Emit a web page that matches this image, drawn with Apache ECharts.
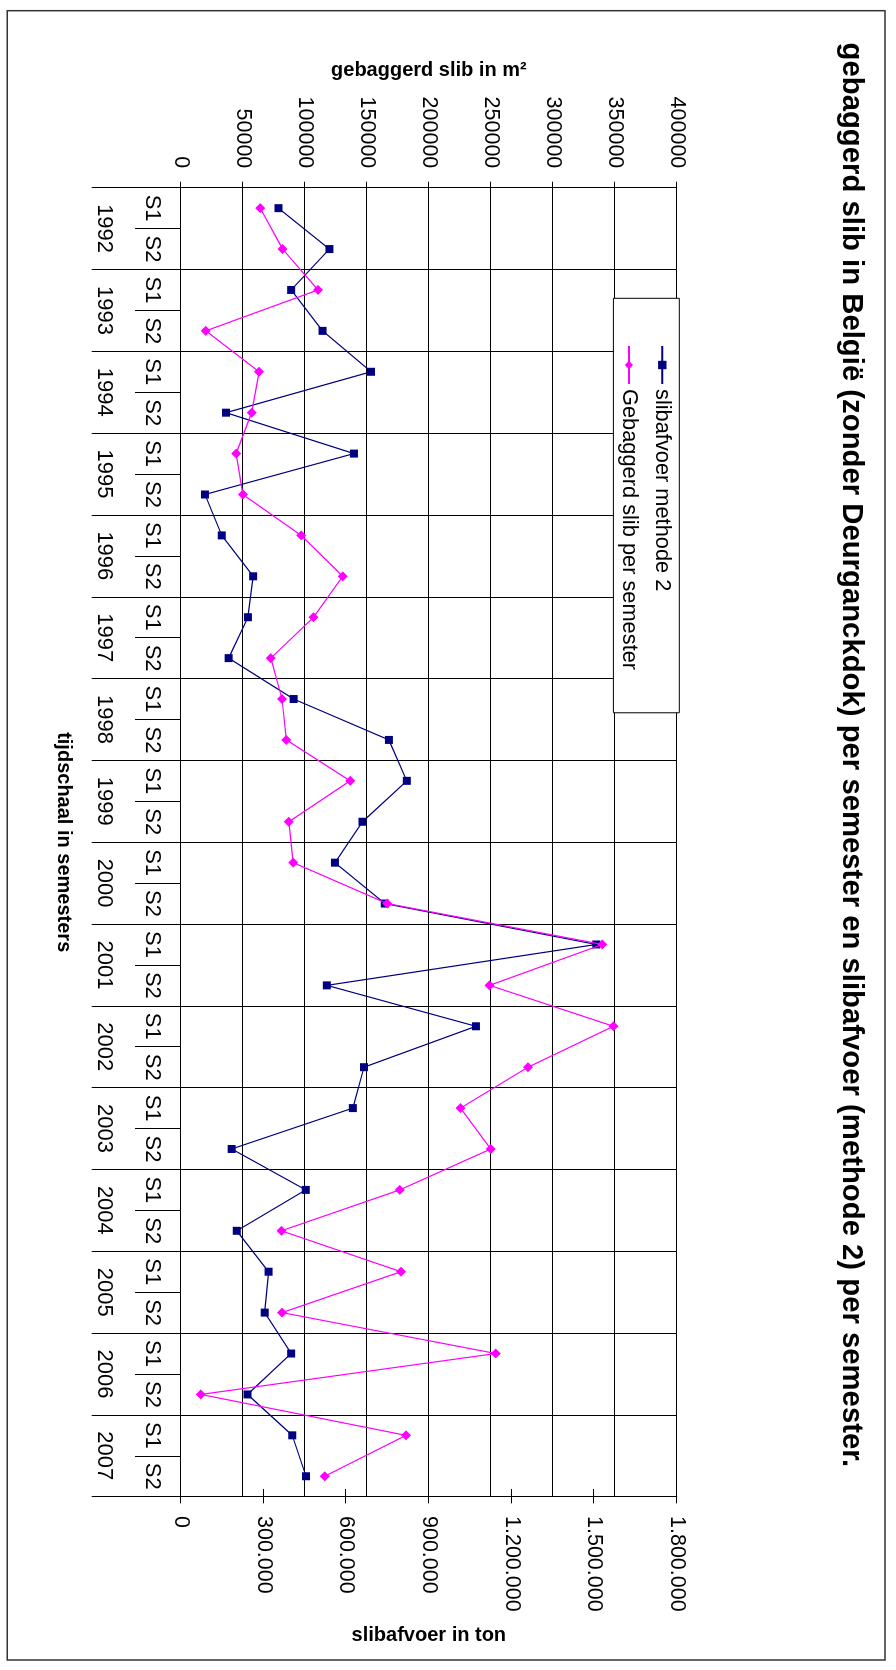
<!DOCTYPE html>
<html>
<head>
<meta charset="utf-8">
<script src="https://cdn.jsdelivr.net/npm/echarts@6/dist/echarts.min.js"></script>
<style>
  html, body { margin: 0; padding: 0; width: 896px; height: 1670px; overflow: hidden; background: #fff; }
  /* The chart is laid out in landscape and turned a quarter turn clockwise onto the portrait page. */
  #chart {
    position: absolute; left: 0; top: 0;
    width: 1670px; height: 896px;
    transform-origin: 0 0;
    transform: translate(896px, 0) rotate(90deg);
  }
</style>
</head>
<body>
<div id="chart"></div>
<script>
const years = ['1992','1993','1994','1995','1996','1997','1998','1999',
               '2000','2001','2002','2003','2004','2005','2006','2007'];
const semesters = ['S1','S2','S1','S2','S1','S2','S1','S2','S1','S2','S1','S2','S1','S2','S1','S2',
                   'S1','S2','S1','S2','S1','S2','S1','S2','S1','S2','S1','S2','S1','S2','S1','S2'];

// slibafvoer (methode 2), ton per semester
const slibafvoerTon = [354000, 539000, 400000, 514000, 690000, 163500, 628000, 87000,
                       148000, 262000, 243000, 173000, 409000, 755000, 820000, 659000,
                       559000, 740000, 1508000, 529500, 1071000, 664500, 624000, 184000,
                       453000, 202500, 318000, 304000, 400000, 241500, 404000, 454000];

// gebaggerd slib, m² per semester
const gebaggerdM2 = [64000, 82000, 110500, 20000, 63000, 57000, 44500, 50000,
                     97000, 130500, 107000, 72500, 81500, 85000, 136500, 87000,
                     90500, 166500, 340000, 249000, 349000, 280000, 225500, 250000,
                     176500, 81000, 177500, 81500, 254000, 16000, 181500, 116000];

const m2Ticks = { min: 0, max: 400000, interval: 50000 };
const tonTicks = { min: 0, max: 1800000, interval: 300000 };

const FONT = "'Liberation Sans', Arial, sans-serif";
const BLACK = '#000';

function withDots(v) {
  return String(v).replace(/\B(?=(\d{3})+(?!\d))/g, '.');
}

const chart = echarts.init(document.getElementById('chart'), null, { renderer: 'canvas' });

chart.setOption({
  animation: false,
  backgroundColor: '#fff',
  textStyle: { fontFamily: FONT },
  title: {
    text: 'gebaggerd slib in België (zonder Deurganckdok) per semester en slibafvoer (methode 2) per semester.',
    left: 42.6,
    top: 30,
    padding: 0,
    textStyle: { fontFamily: FONT, fontSize: 29.3, fontWeight: 'bold', color: BLACK }
  },
  legend: {
    orient: 'vertical',
    left: 298.3,
    top: 216.7,
    padding: [6, 42.7, 4.5, 46.7],
    itemWidth: 38,
    itemHeight: 10.5,
    itemGap: 11.4,
    backgroundColor: '#fff',
    borderColor: BLACK,
    borderWidth: 1,
    borderRadius: 0,
    textStyle: { fontFamily: FONT, fontSize: 21.8, color: BLACK },
    data: ['slibafvoer methode 2', 'Gebaggerd slib per semester']
  },
  grid: { left: 187.7, right: 173.3, top: 219.3, bottom: 181, containLabel: false },
  xAxis: [
    {
      type: 'category',
      data: semesters,
      position: 'bottom',
      boundaryGap: true,
      axisLine: { show: true, lineStyle: { color: BLACK, width: 1 } },
      axisTick: { show: true, interval: 0, length: 46, alignWithLabel: false, lineStyle: { color: BLACK, width: 1 } },
      axisLabel: { interval: 0, margin: 18, fontFamily: FONT, fontSize: 22, color: BLACK },
      splitLine: { show: false }
    },
    {
      type: 'category',
      data: years,
      position: 'bottom',
      boundaryGap: true,
      axisLine: { show: false },
      axisTick: { show: true, interval: 0, length: 89.3, lineStyle: { color: BLACK, width: 1 } },
      axisLabel: { interval: 0, margin: 66, fontFamily: FONT, fontSize: 22, color: BLACK },
      splitLine: { show: true, interval: 0, lineStyle: { color: BLACK, width: 1 } },
      name: 'tijdschaal in semesters',
      nameLocation: 'middle',
      nameGap: 107.7,
      nameTextStyle: { fontFamily: FONT, fontSize: 20, fontWeight: 'bold', color: BLACK }
    }
  ],
  yAxis: [
    {
      type: 'value',
      position: 'left',
      min: m2Ticks.min, max: m2Ticks.max, interval: m2Ticks.interval,
      axisLine: { show: true, lineStyle: { color: BLACK, width: 1 } },
      axisTick: { show: true, length: 6, lineStyle: { color: BLACK, width: 1 } },
      axisLabel: { margin: 19.4, fontFamily: FONT, fontSize: 21.5, color: BLACK, formatter: v => String(v) },
      splitLine: { show: true, lineStyle: { color: BLACK, width: 1 } },
      name: 'gebaggerd slib in m²',
      nameLocation: 'middle',
      nameRotate: 90,
      nameGap: 106.9,
      nameTextStyle: { fontFamily: FONT, fontSize: 20, fontWeight: 'bold', color: BLACK }
    },
    {
      type: 'value',
      position: 'right',
      min: tonTicks.min, max: tonTicks.max, interval: tonTicks.interval,
      axisLine: { show: true, lineStyle: { color: BLACK, width: 1 } },
      axisTick: { show: true, length: 6.7, lineStyle: { color: BLACK, width: 1 } },
      axisLabel: { margin: 19.3, fontFamily: FONT, fontSize: 21.5, color: BLACK, formatter: v => withDots(v) },
      splitLine: { show: false },
      name: 'slibafvoer in ton',
      nameLocation: 'middle',
      nameRotate: 90,
      nameGap: 128.3,
      nameTextStyle: { fontFamily: FONT, fontSize: 20, fontWeight: 'bold', color: BLACK }
    },
    {
      // inner half of the crossing ticks on the ton axis
      type: 'value',
      position: 'right',
      min: tonTicks.min, max: tonTicks.max, interval: tonTicks.interval,
      axisLine: { show: false },
      axisTick: { show: true, inside: true, length: 7.7, lineStyle: { color: BLACK, width: 1 } },
      axisLabel: { show: false },
      splitLine: { show: false }
    }
  ],
  series: [
    {
      name: 'slibafvoer methode 2',
      type: 'line',
      xAxisIndex: 0,
      yAxisIndex: 1,
      data: slibafvoerTon,
      symbol: 'rect',
      symbolSize: 8,
      lineStyle: { color: '#000080', width: 1.2 },
      itemStyle: { color: '#000080' },
      z: 3
    },
    {
      name: 'Gebaggerd slib per semester',
      type: 'line',
      xAxisIndex: 0,
      yAxisIndex: 0,
      data: gebaggerdM2,
      symbol: 'diamond',
      symbolSize: 10,
      lineStyle: { color: '#FF00FF', width: 1.2 },
      itemStyle: { color: '#FF00FF' },
      z: 4
    }
  ],
  graphic: [
    {
      type: 'rect',
      silent: true,
      shape: { x: 10.7, y: 11, width: 1649.3, height: 877.7 },
      style: { fill: null, stroke: '#333', lineWidth: 1.5 },
      z: 100
    }
  ]
});
</script>
</body>
</html>
